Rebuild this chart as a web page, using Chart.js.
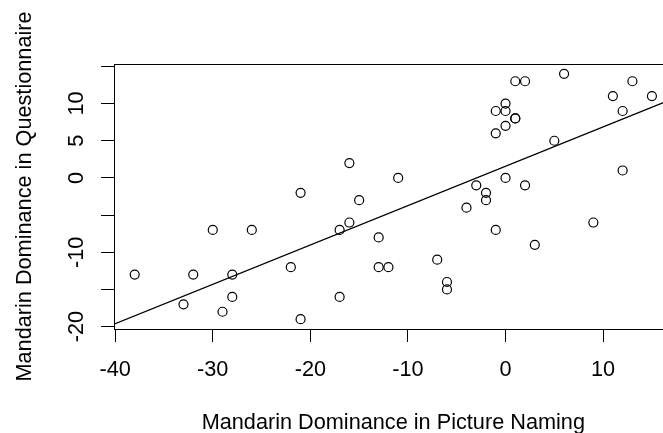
<!DOCTYPE html>
<html lang="en">
<head>
  <meta charset="UTF-8">
  <title>Mandarin Dominance</title>
  <script src="https://cdn.jsdelivr.net/npm/chart.js"></script>
  <style>
    html, body { margin: 0; padding: 0; overflow: hidden; background: #fff; }
    canvas { display: block; }
  </style>
</head>
<body>
  <canvas id="scatter" width="700" height="440"></canvas>

  <script>
    // picture naming dominance (x) vs questionnaire dominance (y)
    const namingScores = [-16, -21, -15, 1, 2, 6, 13, 11, 15, 12, 0, -1, 0, 1, 1, 0, -1, 5, 12, -11,
      0, -3, 2, -2, -2, -4, -1, 3, 9, -13, -13, -12, -7, -6, -6, -30, -26, -17, -16, -38,
      -32, -28, -22, -33, -28, -17, -29, -21];
    const questionnaireScores = [2, -2, -3, 13, 13, 14, 13, 11, 11, 9, 10, 9, 9, 8, 8, 7, 6, 5, 1, 0,
      0, -1, -1, -2, -3, -4, -7, -9, -6, -8, -12, -12, -11, -14, -15, -7, -7, -7, -6, -13,
      -13, -13, -12, -17, -16, -16, -18, -19];

    const xTicks = [-40, -30, -20, -10, 0, 10];
    const yTicks = [-20, -15, -10, -5, 0, 5, 10, 15];
    const yTickLabels = [-20, -10, 0, 5, 10];

    const xTitle = 'Mandarin Dominance in Picture Naming';
    const yTitle = 'Mandarin Dominance in Questionnaire';

    const points = namingScores.map((x, i) => ({ x: x, y: questionnaireScores[i] }));

    // least squares fit, drawn across the whole plot like abline()
    const n = points.length;
    const mx = namingScores.reduce((a, b) => a + b, 0) / n;
    const my = questionnaireScores.reduce((a, b) => a + b, 0) / n;
    let sxy = 0, sxx = 0;
    points.forEach(p => { sxy += (p.x - mx) * (p.y - my); sxx += (p.x - mx) * (p.x - mx); });
    const slope = sxy / sxx;
    const intercept = my - slope * mx;

    // R style 4% padding on the data range
    function padRange(vals) {
      const lo = Math.min(...vals), hi = Math.max(...vals);
      const d = (hi - lo) * 0.04;
      return [lo - d, hi + d];
    }
    const [xMin, xMax] = padRange(namingScores);
    const [yMin, yMax] = padRange(questionnaireScores);

    const fitLine = [xMin, xMax].map(x => ({ x: x, y: intercept + slope * x }));

    const font = { family: '"Liberation Sans", Arial, sans-serif', size: 21.7 };

    const boxPlugin = {
      id: 'box',
      afterDraw(chart) {
        const a = chart.chartArea;
        const ctx = chart.ctx;
        ctx.save();
        ctx.strokeStyle = '#000';
        ctx.lineWidth = 1;
        ctx.strokeRect(a.left + 0.5, a.top + 0.5, a.right - a.left, a.bottom - a.top);
        ctx.restore();
      }
    };

    new Chart(document.getElementById('scatter').getContext('2d'), {
      type: 'scatter',
      data: {
        datasets: [{
          data: points,
          pointStyle: 'circle',
          pointRadius: 4.5,
          pointHoverRadius: 4.5,
          borderColor: '#000',
          borderWidth: 1.2,
          backgroundColor: 'rgba(0,0,0,0)'
        }, {
          type: 'line',
          data: fitLine,
          borderColor: '#000',
          borderWidth: 1.2,
          pointRadius: 0,
          fill: false
        }]
      },
      options: {
        responsive: false,
        animation: false,
        devicePixelRatio: 1,
        layout: { padding: { top: 64, right: 27.4, bottom: 0, left: 0 } },
        plugins: { legend: { display: false }, tooltip: { enabled: false } },
        scales: {
          x: {
            type: 'linear',
            min: xMin,
            max: xMax,
            afterBuildTicks: s => { s.ticks = xTicks.map(v => ({ value: v })); },
            afterFit: s => { s.height = 111; },
            ticks: { color: '#000', font: font, padding: 15, maxRotation: 0, autoSkip: false },
            grid: { drawOnChartArea: false, drawTicks: true, tickLength: 13, color: '#000' },
            border: { display: true, color: '#000' },
            title: { display: true, text: xTitle, color: '#000', font: font, padding: { top: 0, bottom: 4 } }
          },
          y: {
            type: 'linear',
            min: yMin,
            max: yMax,
            afterBuildTicks: s => { s.ticks = yTicks.map(v => ({ value: v })); },
            afterFit: s => { s.width = 114; },
            ticks: {
              color: '#000', font: font, padding: 8, autoSkip: false,
              minRotation: 90, maxRotation: 90, crossAlign: 'center',
              callback: v => yTickLabels.includes(v) ? String(v) : ''
            },
            grid: { drawOnChartArea: false, drawTicks: true, tickLength: 13, color: '#000' },
            border: { display: true, color: '#000' },
            title: { display: true, text: yTitle, color: '#000', font: font, padding: { top: 12, bottom: 0 } }
          }
        }
      },
      plugins: [boxPlugin]
    });
  </script>
</body>
</html>
